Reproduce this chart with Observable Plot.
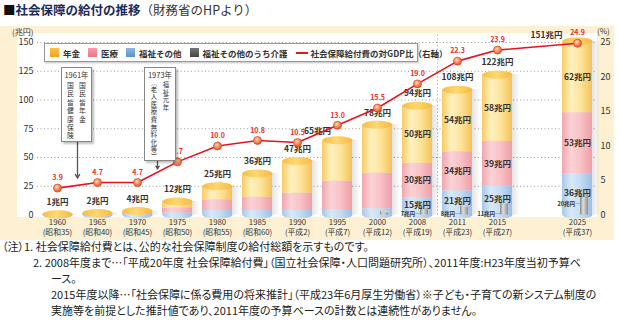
<!DOCTYPE html>
<html lang="ja"><head><meta charset="utf-8">
<script src="https://cdn.jsdelivr.net/npm/d3@7"></script>
<script src="https://cdn.jsdelivr.net/npm/@observablehq/plot@0.6"></script>
<style>
html,body{margin:0;padding:0;background:#fff;}
body{font-family:"Noto Sans CJK JP","Noto Sans",sans-serif;color:#333;}
#wrap{position:relative;width:620px;height:329px;overflow:hidden;}
#title{position:absolute;left:3px;top:2px;font-size:12.5px;line-height:16px;white-space:nowrap;}
#title .sq{color:#111;}
#title .main{color:#1d2b5e;font-weight:bold;}
#title .src{color:#333;font-size:12.5px;}
#panel{position:absolute;left:0;top:26px;width:614px;height:214px;background:#fdf0d3;}
#inner{position:absolute;left:17px;top:7px;width:580px;height:184px;background:#fff;}
#chart{position:absolute;left:0;top:0;}
.unit{position:absolute;font-size:8px;line-height:10px;color:#333;white-space:nowrap;}
#legend{position:absolute;left:44px;top:17px;width:372px;height:17px;background:#fff;border:1px solid #999;box-shadow:1px 1px 2px rgba(0,0,0,.25);display:flex;align-items:center;font-size:8.5px;font-weight:bold;color:#333;white-space:nowrap;}
#legend .it{display:flex;align-items:center;margin-left:5px;margin-right:3px;}
#legend .sw{width:9px;height:9px;margin-right:4px;}
#legend .ln{width:12px;height:2px;background:#e8121b;margin-right:3px;}
.ann{position:absolute;background:#fff;border:1px solid #888;box-shadow:2px 2px 2px rgba(0,0,0,.25);color:#333;text-align:center;}
.ann .yr{font-size:7.5px;line-height:10px;margin-top:2px;white-space:nowrap;}
.ann .cols{display:flex;flex-direction:row-reverse;justify-content:center;align-items:flex-start;gap:2px;margin-top:1px;}
.ann .col span{display:block;width:10px;text-align:center;overflow:visible;}
.ann .rot{transform:rotate(90deg);}
.fn{position:absolute;font-size:11px;line-height:14px;white-space:nowrap;color:#222;font-feature-settings:"palt";}
</style></head>
<body>
<div id="wrap">
  <div id="title"><span class="sq">■</span><span class="main">社会保障の給付の推移</span><span class="src">（財務省のHPより）</span></div>
  <div id="panel">
    <div id="inner"></div>
    <div id="chart"></div>
    <div class="unit" style="left:12px;top:1px">(兆円)</div>
    <div class="unit" style="left:597px;top:0px">(%)</div>
    <div id="legend">
      <div class="it"><div class="sw" style="background:linear-gradient(#fbbf4a,#f5a020)"></div>年金</div>
      <div class="it"><div class="sw" style="background:linear-gradient(#f7a0a8,#ee7480)"></div>医療</div>
      <div class="it"><div class="sw" style="background:linear-gradient(#8fb6e6,#5a8fd4)"></div>福祉その他</div>
      <div class="it"><div class="sw" style="background:linear-gradient(#777,#444)"></div>福祉その他のうち介護</div>
      <div class="it"><div class="ln"></div>社会保障給付費の対GDP比（右軸）</div>
    </div>
    <div class="ann" id="ann1" style="left:61px;top:41px;width:29px;height:73px" data-h="8.4" data-f="6.8"></div>
    <div class="ann" id="ann2" style="left:144px;top:41px;width:30px;height:92px" data-h="7.6" data-f="6.3"></div>
  </div>
  <div class="fn" style="top:239px;left:2px">（注）1. 社会保障給付費とは、公的な社会保障制度の給付総額を示すものです。</div>
  <div class="fn" style="top:255px;left:33px">2. 2008年度まで…「平成20年度 社会保障給付費」（国立社会保障・人口問題研究所）、2011年度:H23年度当初予算ベ</div>
  <div class="fn" style="top:271px;left:51px">ース。</div>
  <div class="fn" style="top:287px;left:51px">2015年度以降…「社会保障に係る費用の将来推計」（平成23年6月厚生労働省）※子ども・子育ての新システム制度の</div>
  <div class="fn" style="top:303px;left:51px">実施等を前提とした推計値であり、2011年度の予算ベースの計数とは連続性がありません。</div>
</div>
<script>
// ---- data ----
const years = ["1960","1965","1970","1975","1980","1985","1990","1995","2000","2008","2011","2015","2025"];
const eras = ["昭和35","昭和40","昭和45","昭和50","昭和55","昭和60","平成2","平成7","平成12","平成19","平成23","平成27","平成37"];
const totals = [1,2,4,12,25,36,47,65,78,94,108,122,151];           // 兆円 labels
const pension = [0.4,1.0,2.2,5.6,11.8,20.5,28,35.6,42,50,54,58,62];  // 年金
const medical = [0.2,0.5,1.0,4.4,9.3,11.6,15,24.6,31,30,34,39,53];   // 医療
const welfare = [0.1,0.2,0.3,1.8,3.9,3.9,4,4.8,5.4,15,21,25,36];     // 福祉その他
const kaigo = [null,null,null,null,null,null,null,null,3,7,8,11,20]; // うち介護
const gdpRatio = [3.9,4.7,4.7,7.7,10.0,10.8,10.5,13.0,15.5,19.0,22.3,23.9,24.9]; // % (right axis)
const labeledYears = ["2008","2011","2015","2025"];
const notes = [{x:"1960", from:65, to:32}, {x:"1970", from:48.5, to:40}];
const noteTexts = [{year:"1961年", cols:["国民皆年金","国民皆健康保険"]}, {year:"1973年", cols:["福祉元年","（老人医療費無料化等）"]}];

const R = 150 / 25; // right axis factor
const rows = years.map((year,i)=>({year, era:eras[i], p:pension[i], m:medical[i], w:welfare[i], k:kaigo[i],
  label:totals[i], gdp:gdpRatio[i], top:pension[i]+medical[i]+welfare[i]}));
const GAP = "gap";
const xDomain = [...years.slice(0,-1), GAP, years[years.length-1]];
const eraOf = Object.fromEntries(rows.map(d=>[d.year,d.era]));
const seg = rows.filter(d=>labeledYears.includes(d.year));
const kRows = rows.filter(d=>d.k!=null);
const ellipse = (rx,ry)=>({draw(ctx){const c=0.5523;ctx.moveTo(rx,0);ctx.bezierCurveTo(rx,ry*c,rx*c,ry,0,ry);ctx.bezierCurveTo(-rx*c,ry,-rx,ry*c,-rx,0);ctx.bezierCurveTo(-rx,-ry*c,-rx*c,-ry,0,-ry);ctx.bezierCurveTo(rx*c,-ry,rx,-ry*c,rx,0);ctx.closePath();}});
const lab = {fontSize:8.5, fontWeight:"bold", fill:"#333"};

const chart = Plot.plot({
  width:614, height:214, marginLeft:37, marginRight:17, marginTop:16, marginBottom:25.5,
  style:{background:"transparent", fontFamily:"'Noto Sans CJK JP','Noto Sans',sans-serif", color:"#333", overflow:"visible"},
  x:{type:"band", domain:xDomain, paddingInner:0.25, paddingOuter:0.125},
  y:{domain:[0,150]},
  marks:[
    Plot.ruleY(d3.range(25,151,25), {stroke:"#9a9a9a", strokeDasharray:"1,2.5"}),
    Plot.ruleX(["2008"], {dx:20, y1:0, y2:157, stroke:"#f2a3a3", strokeDasharray:"1.5,2"}),
    Plot.barY(rows, {x:"year", y1:0, y2:"top", dx:8, fill:"url(#gShadow)"}),
    Plot.dot(rows, {x:"year", y:0, symbol:ellipse(15,3.5), fill:"url(#gW)"}),
    Plot.barY(rows, {x:"year", y1:0, y2:"w", fill:"url(#gW)"}),
    Plot.barY(rows, {x:"year", y1:"w", y2:d=>d.w+d.m, fill:"url(#gM)"}),
    Plot.barY(rows, {x:"year", y1:d=>d.w+d.m, y2:"top", fill:"url(#gP)"}),
    Plot.dot(rows, {x:"year", y:"top", symbol:ellipse(15,4), fill:"url(#gCap)"}),
    Plot.barY(kRows, {x:"year", y1:0, y2:"k", insetLeft:18, insetRight:4, fill:"url(#gK)"}),
    Plot.dot(kRows, {x:"year", y:"k", dx:7, symbol:ellipse(4,1.3), fill:"#d0d0d0"}),
    Plot.text(rows.filter(d=>d.year!=="1995"&&d.year!=="2025"), {x:"year", y:"top", text:d=>`${d.label}兆円`, dy:-12, ...lab}),
    Plot.text(rows.filter(d=>d.year==="1995"), {x:"year", y:"top", text:d=>`${d.label}兆円`, dx:-20, dy:-9, ...lab}),
    Plot.text(rows.filter(d=>d.year==="2025"), {x:"year", y:"top", text:d=>`${d.label}兆円`, dx:-31, dy:-6, ...lab}),
    Plot.text(seg, {x:"year", y:d=>d.w+d.m+d.p/2, text:d=>`${d.p}兆円`, ...lab}),
    Plot.text(seg, {x:"year", y:d=>d.w+d.m/2, text:d=>`${d.m}兆円`, ...lab}),
    Plot.text(seg, {x:"year", y:d=>d.w/2+1.2, text:d=>`${d.w}兆円`, ...lab}),
    Plot.text(kRows.filter(d=>labeledYears.includes(d.year)), {x:"year", y:d=>d.k<15?1.1:d.k*0.45, text:d=>`${d.k}兆円—`, textAnchor:"end", dx:3, fontSize:5.5, fontWeight:"bold", fill:"#333"}),
    Plot.line(rows, {x:"year", y:d=>d.gdp*R, stroke:"#e8121b", strokeWidth:1.6}),
    Plot.dot(rows, {x:"year", y:d=>d.gdp*R, r:4, fill:"url(#gDot)", stroke:"#dc4a24", strokeWidth:0.8}),
    Plot.text(rows, {x:"year", y:d=>d.gdp*R, text:d=>d.gdp.toFixed(1), dy:-10, fill:"#ee2a2a", fontSize:7, fontWeight:"bold"}),
    Plot.arrow(notes, {x1:"x", x2:"x", y1:"from", y2:"to", dx:20, stroke:"#555", strokeWidth:1.3, headLength:5}),
    Plot.axisY({anchor:"left", ticks:d3.range(0,151,25), tickSize:0, tickPadding:4, label:null, fontSize:9}),
    Plot.axisY({anchor:"right", ticks:d3.range(0,151,30), tickFormat:d=>d/R, tickSize:0, tickPadding:3, label:null, fontSize:9}),
    Plot.axisX({ticks:years, tickFormat:d=>`${d}\n(${eraOf[d]})`, tickSize:0, tickPadding:3, label:null, fontSize:7.8, lineHeight:1.3})
  ]
});
document.getElementById("chart").appendChild(chart);

// gradients for the cylinder look
const defs = d3.select(chart).insert("defs", ":first-child");
function lin(id, stops){
  const g = defs.append("linearGradient").attr("id", id).attr("x1",0).attr("x2",1).attr("y1",0).attr("y2",0);
  stops.forEach(([o,c,op])=>g.append("stop").attr("offset",o).attr("stop-color",c).attr("stop-opacity",op==null?1:op));
}
lin("gP", [[0,"#f7cb62"],[0.3,"#fff0bf"],[0.6,"#fee6a0"],[1,"#f5c258"]]);
lin("gM", [[0,"#f0a6ae"],[0.3,"#fbd2d5"],[0.6,"#f8c3c8"],[1,"#ee9fa8"]]);
lin("gW", [[0,"#a7c7e9"],[0.3,"#d8e9f8"],[0.6,"#c6ddf3"],[1,"#9dbee3"]]);
lin("gCap", [[0,"#f8bd45"],[0.45,"#fdd873"],[1,"#f7b940"]]);
lin("gK", [[0,"#8a8a8a"],[0.4,"#dedede"],[1,"#8c8c8c"]]);
lin("gShadow", [[0,"#000",0.16],[0.72,"#000",0.12],[1,"#000",0]]);
const rg = defs.append("radialGradient").attr("id","gDot").attr("cx","40%").attr("cy","35%").attr("r","65%");
[[0,"#ffd9c2"],[0.55,"#f58c5c"],[1,"#e4572e"]].forEach(([o,c])=>rg.append("stop").attr("offset",o).attr("stop-color",c));

// annotation boxes: vertical Japanese text, one glyph per line
["ann1","ann2"].forEach((id,i)=>{
  const box = document.getElementById(id);
  const h = parseFloat(box.dataset.h), f = box.dataset.f + "px";
  const t = noteTexts[i];
  box.innerHTML = `<div class="yr">${t.year}</div><div class="cols">` +
    t.cols.map(s=>`<div class="col">${[...s].map(c=>{
      const paren = "（）".includes(c);
      const hh = (paren ? h*0.6 : h) + "px";
      return `<span class="${paren?"rot":""}" style="height:${hh};line-height:${hh};font-size:${f}">${c}</span>`;
    }).join("")}</div>`).join("") + `</div>`;
});
</script>
</body></html>
